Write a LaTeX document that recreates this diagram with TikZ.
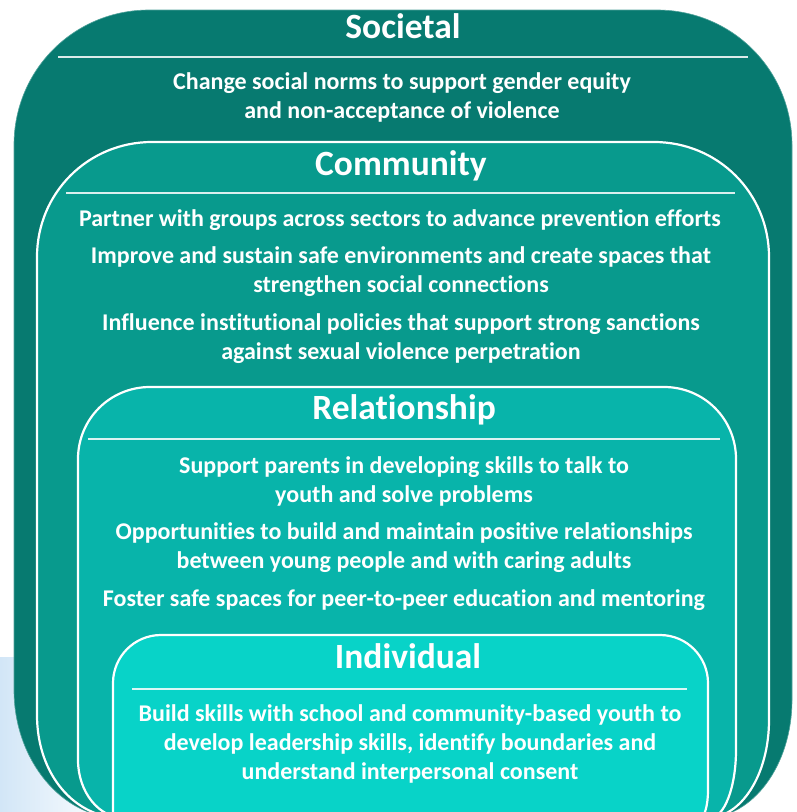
\documentclass[tikz,border=0pt]{standalone}
\usepackage{fontspec}
\setmainfont{Carlito}[Ligatures=NoCommon]
\definecolor{soc}{HTML}{077A70}
\definecolor{com}{HTML}{089A8D}
\definecolor{rel}{HTML}{08B4AA}
\definecolor{ind}{HTML}{08D3C8}
\definecolor{bgblue}{HTML}{D2E6F7}
\tikzset{
  head/.style={anchor=base, text=white, font=\fontsize{35.5}{40}\selectfont\bfseries, inner sep=0pt},
  body/.style={anchor=base, text=white, font=\fontsize{24}{29}\selectfont\bfseries, inner sep=0pt},
  sepline/.style={draw=white, opacity=0.85, line width=1.6pt},
  levelbox/.style={draw=white, line width=2.2pt}
}
\begin{document}
\begin{tikzpicture}[x=1pt,y=-1pt]
\useasboundingbox (0,0) rectangle (796,812);
\clip (0,0) rectangle (796,812);
% background tint
\shade[left color=bgblue, right color=white] (0,657) rectangle (115,812);
% Societal
\path[fill=soc, draw=soc!70!white, line width=0.6pt]
  (14,145) .. controls (14,70) and (74,10) .. (149,10)
  -- (657,10) .. controls (732,10) and (792,70) .. (792,145)
  -- (792,700) .. controls (792,765) and (753,818) .. (705,818)
  -- (120,818) .. controls (62,818) and (14,760) .. (14,690) -- cycle;
% Community
\path[fill=com, levelbox]
  (37,257) .. controls (37,193) and (88,142) .. (152,142)
  -- (654,142) .. controls (718,142) and (769,193) .. (769,257)
  -- (769,720) .. controls (769,775) and (741,818) .. (707,818)
  -- (122,818) .. controls (75,818) and (37,775) .. (37,715) -- cycle;
% Relationship
\path[fill=rel, levelbox]
  (78,459) .. controls (78,419) and (110,387) .. (150,387)
  -- (664,387) .. controls (704,387) and (736,419) .. (736,459)
  -- (736,750) .. controls (736,788) and (724,818) .. (710,818)
  -- (124,818) .. controls (99,818) and (78,792) .. (78,760) -- cycle;
% Individual
\path[fill=ind, levelbox]
  (113,683) .. controls (113,657) and (134,635) .. (161,635)
  -- (660,635) .. controls (687,635) and (708,657) .. (708,683)
  -- (708,790) .. controls (708,805) and (705,815) .. (700,822)
  -- (113,822) -- cycle;
% separators
\coordinate (s1a) at (58,57);  \coordinate (s1b) at (748,57);
\coordinate (s2a) at (66,193); \coordinate (s2b) at (735,193);
\coordinate (s3a) at (88,439); \coordinate (s3b) at (720,439);
\coordinate (s4a) at (132,689); \coordinate (s4b) at (687,689);
\draw[sepline] (s1a) -- (s1b);
\draw[sepline] (s2a) -- (s2b);
\draw[sepline] (s3a) -- (s3b);
\draw[sepline] (s4a) -- (s4b);
% Societal texts
\node[head] (hsoc) at (403,38) {Societal};
\node[body] (soc1) at (402,89) {Change social norms to support gender equity};
\node[body] (soc2) at (402,118) {and non-acceptance of violence};
% Community texts
\node[head] (hcom) at (401,175) {Community};
\node[body] (com1) at (400,226) {Partner with groups across sectors to advance prevention efforts};
\node[body] (com2) at (401,263) {Improve and sustain safe environments and create spaces that};
\node[body] (com3) at (401,292) {strengthen social connections};
\node[body] (com4) at (401,330) {Influence institutional policies that support strong sanctions};
\node[body] (com5) at (401,359) {against sexual violence perpetration};
% Relationship texts
\node[head] (hrel) at (404,419) {Relationship};
\node[body] (rel1) at (404,473) {Support parents in developing skills to talk to};
\node[body] (rel2) at (404,502) {youth and solve problems};
\node[body] (rel3) at (404,539) {Opportunities to build and maintain positive relationships};
\node[body] (rel4) at (404,568) {between young people and with caring adults};
\node[body] (rel5) at (404,606) {Foster safe spaces for peer-to-peer education and mentoring};
% Individual texts
\node[head] (hind) at (408,668) {Individual};
\node[body] (ind1) at (410,721) {Build skills with school and community-based youth to};
\node[body] (ind2) at (410,750) {develop leadership skills, identify boundaries and};
\node[body] (ind3) at (410,779) {understand interpersonal consent};
\end{tikzpicture}
\end{document}
